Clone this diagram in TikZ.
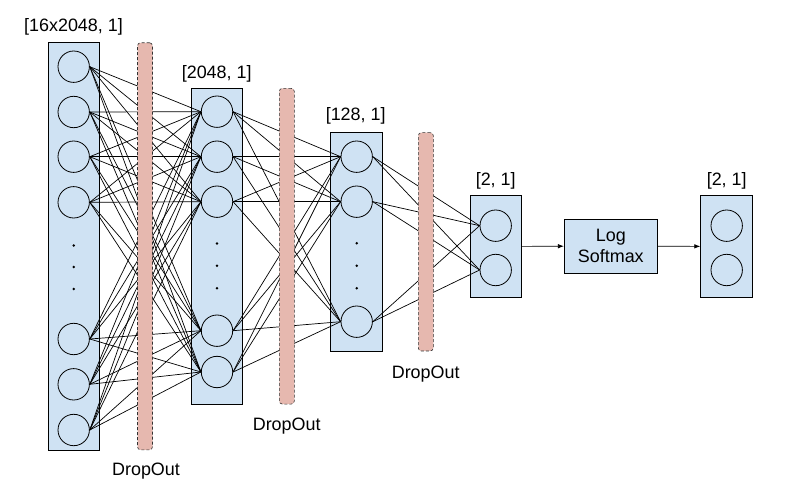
\documentclass[tikz,border=0pt]{standalone}
\usepackage{fontspec}
\setmainfont{Liberation Sans}
\usetikzlibrary{arrows.meta}
\definecolor{layerblue}{HTML}{CFE2F3}
\definecolor{droppink}{HTML}{E6B8AF}

\tikzset{
  layerbox/.style={draw=black,fill=layerblue,line width=0.8bp,inner sep=0pt},
  neuron/.style={circle,draw=black,fill=layerblue,line width=0.8bp,minimum size=31.4bp,inner sep=0pt},
  dropbar/.style={draw=black!80,dash pattern=on 3bp off 2bp,fill=droppink,rounded corners=3bp,line width=0.6bp,minimum width=15bp,inner sep=0pt},
  wire/.style={black,line width=0.7bp},
  sizetext/.style={font=\fontsize{18}{21}\selectfont,inner sep=0pt}
}

\begin{document}
\begin{tikzpicture}[x=1bp,y=-1bp]
  \useasboundingbox (0,0) rectangle (790,493);

  %層の枠
  \node[layerbox,minimum width=51bp,minimum height=408bp] (LA) at (73.5,246) {};
  \node[layerbox,minimum width=51bp,minimum height=315.7bp] (LB) at (217,246.2) {};
  \node[layerbox,minimum width=52bp,minimum height=218.3bp] (LC) at (356.3,241.8) {};
  \node[layerbox,minimum width=51bp,minimum height=101.3bp] (LD) at (495.8,246.4) {};
  \node[layerbox,minimum width=93bp,minimum height=53.7bp,align=center,font=\fontsize{18}{21}\selectfont] (S) at (610.8,246.2) {Log\\Softmax};
  \node[layerbox,minimum width=51.6bp,minimum height=101.3bp] (LE) at (726.5,246.4) {};

  %入力層
  \node[neuron] (A1) at (73.7,66.7) {};
  \node[neuron] (A2) at (73.7,112) {};
  \node[neuron] (A3) at (73.7,156.7) {};
  \node[neuron] (A4) at (73.7,202.3) {};
  \node[neuron] (A5) at (73.7,339) {};
  \node[neuron] (A6) at (73.7,384.3) {};
  \node[neuron] (A7) at (73.7,430) {};
  \fill (73.7,245.5) circle (1.4);
  \fill (73.7,267) circle (1.4);
  \fill (73.7,289) circle (1.4);

  %第2層
  \node[neuron] (B1) at (217,111.7) {};
  \node[neuron] (B2) at (217,156.7) {};
  \node[neuron] (B3) at (217,201.7) {};
  \node[neuron] (B4) at (217,330.7) {};
  \node[neuron] (B5) at (217,372) {};
  \fill (217,243.5) circle (1.4);
  \fill (217,265.8) circle (1.4);
  \fill (217,288.3) circle (1.4);

  %第3層
  \node[neuron] (C1) at (356.7,156.7) {};
  \node[neuron] (C2) at (356.7,201.7) {};
  \node[neuron] (C3) at (356.7,321.7) {};
  \fill (356.7,243.3) circle (1.4);
  \fill (356.7,265.7) circle (1.4);
  \fill (356.7,288.3) circle (1.4);

  %第4層と出力
  \node[neuron] (D1) at (495.7,225.7) {};
  \node[neuron] (D2) at (495.7,270) {};
  \node[neuron] (E1) at (726.7,225.7) {};
  \node[neuron] (E2) at (726.7,270) {};

  %結合
  \foreach \i in {1,...,7}{
    \foreach \j in {1,...,5}{
      \draw[wire] (A\i.east) -- (B\j.west);
    }
  }
  \foreach \i in {1,...,5}{
    \foreach \j in {1,...,3}{
      \draw[wire] (B\i.east) -- (C\j.west);
    }
  }
  \foreach \i in {1,...,3}{
    \foreach \j in {1,2}{
      \draw[wire] (C\i.east) -- (D\j.west);
    }
  }

  %矢印
  \draw[wire,-{Latex[length=6bp,width=4.5bp]}] (LD.east) -- (S.west);
  \draw[wire,-{Latex[length=6bp,width=4.5bp]}] (S.east) -- (LE.west);

  %DropOut
  \node[dropbar,minimum height=407bp] (P1) at (145,246.3) {};
  \node[dropbar,minimum height=315.7bp] (P2) at (286.8,246.2) {};
  \node[dropbar,minimum height=218.3bp] (P3) at (425.8,241.8) {};

  %ラベル
  \node[sizetext] (T1) at (73.5,26.5) {[16x2048, 1]};
  \node[sizetext] (T2) at (216.7,73.5) {[2048, 1]};
  \node[sizetext] (T3) at (355.7,115.5) {[128, 1]};
  \node[sizetext] (T4) at (495.7,181) {[2, 1]};
  \node[sizetext] (T5) at (726.7,181) {[2, 1]};
  \node[sizetext] (Q1) at (146,471) {DropOut};
  \node[sizetext] (Q2) at (286.7,426) {DropOut};
  \node[sizetext] (Q3) at (425.7,374.5) {DropOut};
\end{tikzpicture}
\end{document}
